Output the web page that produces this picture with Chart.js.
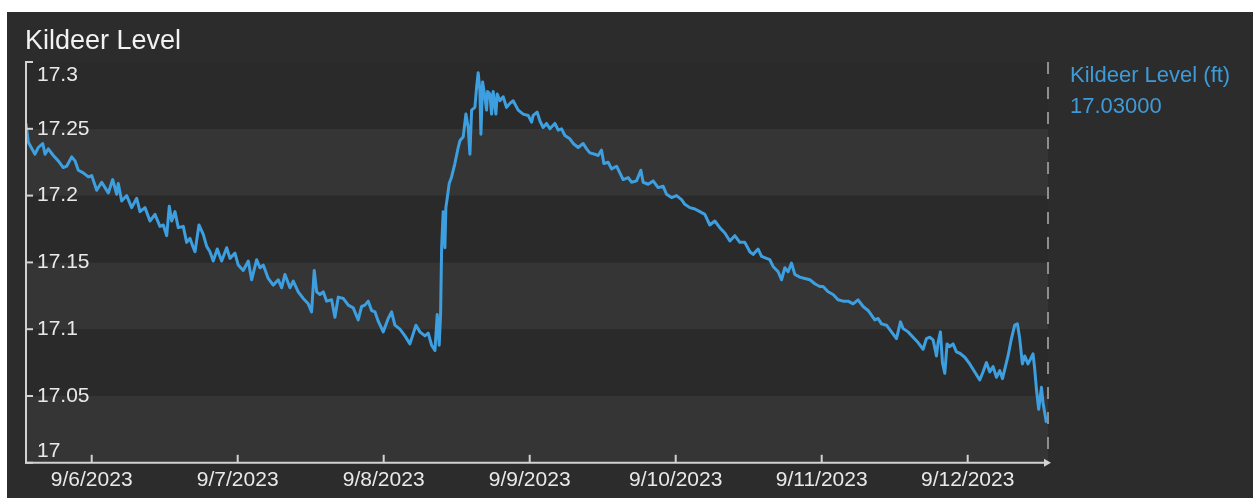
<!DOCTYPE html>
<html>
<head>
<meta charset="utf-8">
<script src="https://cdn.jsdelivr.net/npm/chart.js@4.4.1/dist/chart.umd.min.js"></script>
<style>
body{margin:0;background:#ffffff;width:1253px;height:498px;overflow:hidden;font-family:"Liberation Sans",Arial,sans-serif;}
#panel{position:absolute;left:7px;top:12px;width:1246px;height:486px;background:#2c2c2c;}
#title{position:absolute;left:25px;top:27px;font-size:27px;line-height:27px;color:#f2f2f2;white-space:nowrap;}
.legend{position:absolute;left:1070px;font-size:22px;line-height:22px;color:#3e9bd8;white-space:nowrap;}
canvas{position:absolute;left:0;top:0;}
</style>
</head>
<body>
<div id="panel"><canvas id="canvas" width="1246" height="486"></canvas></div>
<div id="title">Kildeer Level</div>
<div class="legend" id="legName" style="top:64px"></div>
<div class="legend" id="legValue" style="top:95px"></div>
<script>
// hours since 9/6/2023 00:00
var hours = [
	-10.8,-10.42,-9.32,-8.78,-8.05,-7.67,-7.13,-6.31,-5.49,-4.67,
	-4.11,-3.29,-2.74,-2.2,-1.38,-0.56,0,0.82,1.64,2.19,
	2.73,3.45,4.11,4.37,4.93,5.75,6.57,7.4,7.94,8.76,
	9.58,10.4,11.22,11.77,12.33,12.75,13.15,13.69,14.23,15.05,
	15.61,16.15,16.7,
	16.98,17.63,18.34,18.9,19.44,19.98,20.64,21.36,22.19,22.73,
	23.55,24.09,24.91,25.74,26.29,27.12,27.66,28.2,29.02,29.84,
	30.67,31.22,31.77,32.59,33.13,33.95,34.77,35.6,36.15,36.58,
	36.98,37.52,38.06,38.62,39.44,39.98,40.53,41.35,42.17,42.99,
	43.81,44.37,
	44.91,45.46,46.01,46.56,47.1,47.92,48.74,49.3,49.84,50.67,
	51.49,52.31,53.3,53.95,54.78,55.32,55.88,56.42,56.8,57.12,
	57.35,57.52,57.78,58.06,58.22,58.44,58.77,59.16,59.7,60.25,
	60.53,61.07,61.51,61.89,62.17,62.45,62.99,63.27,63.53,63.81,
	63.98,64.26,64.63,64.91,65.08,65.46,65.73,66.0,66.44,66.66,
	67.1,67.64,68.2,68.74,69.28,70.11,70.93,71.75,72.31,
	72.57,73.23,73.67,74.21,74.77,75.32,76.14,76.68,77.24,77.78,
	78.6,79.15,79.97,80.79,81.35,81.89,82.71,83.25,83.81,84.19,
	84.9,85.46,86.28,86.82,87.36,88.19,88.74,89.56,90.27,90.65,
	91.47,92.29,93.11,93.94,94.49,95.32,96.14,96.96,97.5,98.32,
	99.15,
	99.97,100.79,101.61,102.43,103.25,104.08,104.9,105.72,106.54,107.36,
	108.19,108.73,109.55,110.11,110.93,111.47,112.01,112.84,113.4,113.94,
	114.48,115.04,115.58,116.4,117.22,118.05,118.87,119.69,120.23,121.05,
	121.87,122.69,123.52,124.34,125.16,125.98,126.81,127.63,
	128.73,129.27,129.83,130.65,131.47,132.29,132.95,133.38,134.2,135.02,
	135.84,136.67,137.22,137.76,138.31,138.87,139.13,139.52,139.85,140.23,
	140.61,141.05,141.59,142.15,142.7,143.52,144.34,145.16,145.98,146.52,
	147.08,147.63,148.17,148.73,149.27,149.71,150.09,150.63,151.19,151.73,
	152.17,152.55,152.99,153.37,153.91,154.36,154.74,155.02,155.3,155.67,
	156.12,156.38,156.94
];
var levels = [
	17.254,17.240,17.231,17.236,17.239,17.231,17.235,17.230,17.226,17.221,
	17.222,17.229,17.226,17.219,17.217,17.214,17.215,17.204,17.210,17.206,
	17.202,17.212,17.201,17.209,17.196,17.200,17.191,17.198,17.188,17.191,
	17.181,17.186,17.177,17.178,17.170,17.192,17.181,17.188,17.176,17.177,
	17.165,17.168,17.161,
	17.158,17.178,17.171,17.162,17.158,17.151,17.160,17.151,17.161,17.153,
	17.157,17.148,17.144,17.151,17.137,17.152,17.146,17.148,17.138,17.133,
	17.137,17.131,17.141,17.131,17.136,17.128,17.123,17.119,17.113,17.144,
	17.128,17.126,17.128,17.121,17.122,17.109,17.124,17.123,17.118,17.116,
	17.107,17.117,
	17.118,17.121,17.114,17.113,17.106,17.098,17.108,17.113,17.103,17.100,
	17.095,17.089,17.103,17.098,17.095,17.097,17.088,17.084,17.111,17.088,
	17.111,17.161,17.188,17.161,17.191,17.198,17.209,17.214,17.224,17.236,
	17.241,17.244,17.261,17.251,17.231,17.264,17.266,17.281,17.292,17.279,
	17.246,17.285,17.274,17.264,17.278,17.276,17.261,17.278,17.261,17.276,
	17.271,17.274,17.266,17.269,17.271,17.264,17.261,17.260,17.255,
	17.260,17.2625,17.256,17.251,17.254,17.250,17.254,17.249,17.250,17.245,
	17.2425,17.239,17.236,17.239,17.235,17.232,17.231,17.230,17.234,17.224,
	17.225,17.220,17.222,17.217,17.212,17.2135,17.210,17.211,17.219,17.210,
	17.2085,17.211,17.206,17.207,17.201,17.1985,17.200,17.197,17.1935,17.191,
	17.190,
	17.188,17.186,17.178,17.181,17.176,17.172,17.166,17.170,17.165,17.165,
	17.158,17.156,17.160,17.1545,17.153,17.152,17.147,17.143,17.137,17.146,
	17.143,17.1495,17.141,17.139,17.138,17.137,17.134,17.132,17.132,17.128,
	17.126,17.122,17.121,17.121,17.119,17.122,17.117,17.114,
	17.107,17.108,17.104,17.103,17.098,17.093,17.1055,17.1005,17.098,17.094,
	17.090,17.085,17.093,17.094,17.092,17.080,17.090,17.098,17.075,17.067,
	17.089,17.087,17.089,17.083,17.082,17.079,17.074,17.068,17.062,17.068,
	17.075,17.068,17.072,17.064,17.069,17.063,17.070,17.080,17.093,17.103,
	17.104,17.093,17.074,17.080,17.074,17.078,17.0815,17.070,17.055,17.040,
	17.0565,17.045,17.030
];
var seriesName = 'Kildeer Level (ft)';
var xTickHours = [0,24,48,72,96,120,144];
var xTickLabels = ['9/6/2023','9/7/2023','9/8/2023','9/9/2023','9/10/2023','9/11/2023','9/12/2023'];
var yTicks = [17,17.05,17.1,17.15,17.2,17.25,17.3];
var yTickLabels = ['17','17.05','17.1','17.15','17.2','17.25','17.3'];

var lineColor = '#3d9fe0';
var axisColor = '#d2d2d2';
var textColor = '#e9e9e9';
var labelFont = '21px "Liberation Sans", Arial, sans-serif';

document.getElementById('legName').textContent = seriesName;
document.getElementById('legValue').textContent = levels[levels.length-1].toFixed(5);

// alternating bands between the y ticks
var bandsPlugin = {
	id: 'bands',
	beforeDatasetsDraw: function(chart){
		var ctx = chart.ctx, x = chart.scales.x, y = chart.scales.y;
		ctx.save();
		for (var i=0;i<yTicks.length-1;i++){
			var y0 = y.getPixelForValue(yTicks[i]);
			var y1 = y.getPixelForValue(yTicks[i+1]);
			ctx.fillStyle = (i%2==0) ? '#353535' : '#2a2a2a';
			ctx.fillRect(x.left, y1, x.right-x.left, y0-y1);
		}
		ctx.restore();
	}
};

// axis lines, arrow, tick marks, y labels, dashed end line
var axesPlugin = {
	id: 'axes',
	afterDatasetsDraw: function(chart){
		var ctx = chart.ctx, x = chart.scales.x, y = chart.scales.y;
		var left = x.left, right = x.right, top = y.top, bottom = y.bottom;
		ctx.save();
		// dashed vertical line at the end
		ctx.strokeStyle = '#8e8e8e';
		ctx.lineWidth = 2;
		ctx.setLineDash([12,13]);
		ctx.beginPath();
		ctx.moveTo(right, top);
		ctx.lineTo(right, bottom);
		ctx.stroke();
		ctx.setLineDash([]);

		ctx.strokeStyle = axisColor;
		ctx.lineWidth = 2;
		ctx.beginPath();
		ctx.moveTo(left, top);
		ctx.lineTo(left, bottom);
		ctx.lineTo(right, bottom);
		ctx.stroke();
		// arrow head
		ctx.fillStyle = axisColor;
		ctx.beginPath();
		ctx.moveTo(right+3, bottom);
		ctx.lineTo(right-4, bottom-4);
		ctx.lineTo(right-4, bottom+4);
		ctx.closePath();
		ctx.fill();

		// y tick marks and labels
		ctx.font = labelFont;
		ctx.fillStyle = textColor;
		ctx.textAlign = 'left';
		ctx.textBaseline = 'middle';
		for (var i=0;i<yTicks.length;i++){
			var py = y.getPixelForValue(yTicks[i]);
			ctx.beginPath();
			ctx.moveTo(left-1, py);
			ctx.lineTo(left+7, py);
			ctx.stroke();
			var ly = py;
			if (i==0) ly = py-12;
			if (i==yTicks.length-1) ly = py+13;
			ctx.fillText(yTickLabels[i], left+11, ly);
		}
		// x tick marks
		for (var j=0;j<xTickHours.length;j++){
			var px = x.getPixelForValue(xTickHours[j]);
			ctx.beginPath();
			ctx.moveTo(px, bottom);
			ctx.lineTo(px, bottom-8);
			ctx.stroke();
		}
		ctx.restore();
	}
};

var points = [];
for (var k=0;k<hours.length;k++){
	points.push({x: hours[k], y: levels[k]});
}

var config = {};
config['type'] = 'line';
config['data'] = {
	datasets: [{
		label: seriesName,
		data: points,
		borderColor: lineColor,
		borderWidth: 3,
		borderJoinStyle: 'round',
		pointRadius: 0,
		tension: 0,
		fill: false
	}]
};
config['options'] = {
	responsive: false,
	animation: false,
	layout: {padding: {left: 19, right: 205, top: 50, bottom: 0}},
	plugins: {legend: {display: false}, title: {display: false}, tooltip: {enabled: false}},
	scales: {
		x: {
			type: 'linear',
			min: -10.8,
			max: 157.2,
			afterBuildTicks: function(scale){
				scale.ticks = xTickHours.map(function(v){ return {value: v}; });
			},
			grid: {display: false, drawTicks: false, tickLength: 0},
			border: {display: false},
			ticks: {
				autoSkip: false,
				maxRotation: 0,
				padding: 5,
				color: textColor,
				font: {family: '"Liberation Sans", Arial, sans-serif', size: 21},
				callback: function(value, index){ return xTickLabels[index]; }
			}
		},
		y: {
			display: false,
			min: 17,
			max: 17.3
		}
	}
};
config['plugins'] = [bandsPlugin, axesPlugin];

var ctx = document.getElementById('canvas').getContext('2d');
window.myLine = new Chart(ctx, config);
</script>
</body>
</html>
